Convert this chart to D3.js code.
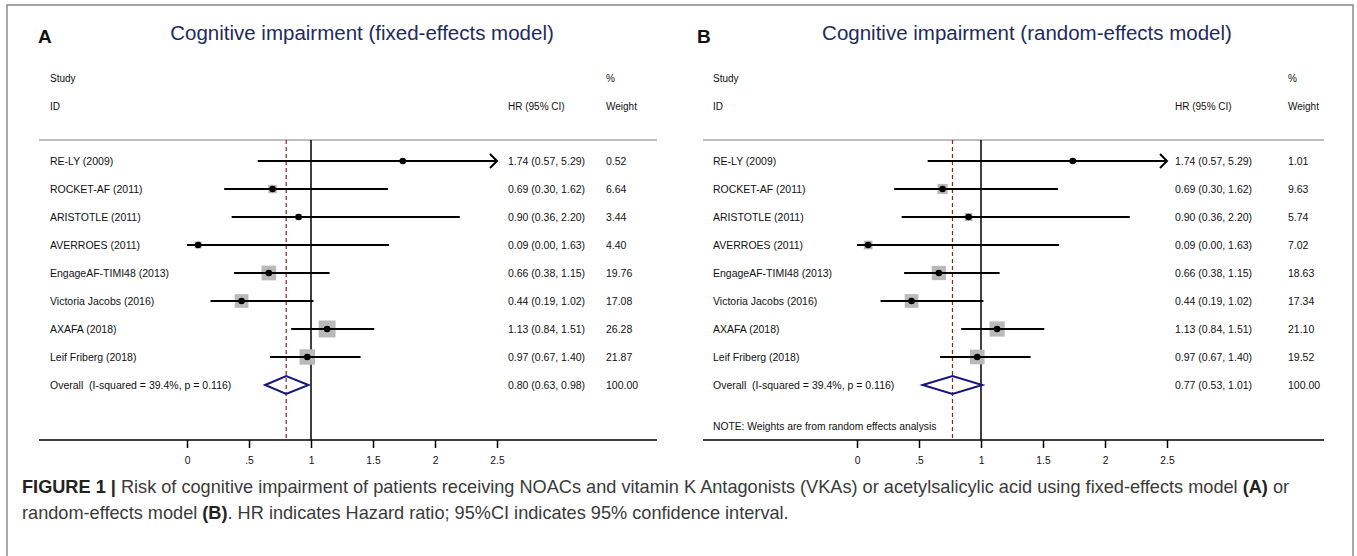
<!DOCTYPE html>
<html><head><meta charset="utf-8">
<script src="https://cdn.jsdelivr.net/npm/d3@7"></script>
<style>
html,body{margin:0;padding:0;background:#fff;}
svg{display:block;font-family:"Liberation Sans",Arial,sans-serif;}
</style></head>
<body>
<svg id="chart" width="1357" height="556"></svg>
<script>
// ---------- data ----------
const studies = ["RE-LY (2009)","ROCKET-AF (2011)","ARISTOTLE (2011)","AVERROES (2011)",
  "EngageAF-TIMI48 (2013)","Victoria Jacobs (2016)","AXAFA (2018)","Leif Friberg (2018)"];
const hr    = [1.74,0.69,0.90,0.09,0.66,0.44,1.13,0.97];
const hrLow = [0.57,0.30,0.36,0.00,0.38,0.19,0.84,0.67];
const hrHigh= [5.29,1.62,2.20,1.63,1.15,1.02,1.51,1.40];
const weightsFixed  = [0.52,6.64,3.44,4.40,19.76,17.08,26.28,21.87];
const weightsRandom = [1.01,9.63,5.74,7.02,18.63,17.34,21.10,19.52];
const overallFixed  = [0.80,0.63,0.98];
const overallRandom = [0.77,0.53,1.01];
const overallLabel = "Overall\u00a0\u00a0(I-squared = 39.4%, p = 0.116)";
const tickValues = [0,0.5,1,1.5,2,2.5];
const tickLabels = ["0",".5","1","1.5","2","2.5"];
const panels = [
  {letter:"A", title:"Cognitive impairment (fixed-effects model)", weights:weightsFixed, overall:overallFixed, note:null},
  {letter:"B", title:"Cognitive impairment (random-effects model)", weights:weightsRandom, overall:overallRandom, note:"NOTE: Weights are from random effects analysis"}
];
// ---------- layout ----------
const layouts = [
  {left:39, right:657, x0:187, x25:497, letterX:38, titleX:362, labelX:50, hrX:508, wX:606},
  {left:703, right:1324, x0:857, x25:1167, letterX:697, titleX:1027, labelX:713, hrX:1175, wX:1288}
];
const topLine = 140, axisY = 440, rowY0 = 161, rowStep = 28, fsRow = 10.5;
const fmt = d3.format(".2f");
const svg = d3.select("#chart");

// outer border
svg.append("rect").attr("x",7).attr("y",5).attr("width",1346).attr("height",560)
  .attr("fill","none").attr("stroke","#8a8a8a").attr("stroke-width",1.5);

panels.forEach((p,pi)=>{
  const L = layouts[pi];
  const g = svg.append("g");
  const x = d3.scaleLinear().domain([0,2.5]).range([L.x0,L.x25]);
  const y = i => rowY0 + i*rowStep;

  g.append("text").attr("x",L.letterX).attr("y",43).attr("font-size",19).attr("font-weight","bold")
    .attr("fill","#111").text(p.letter);
  g.append("text").attr("x",L.titleX).attr("y",40).attr("text-anchor","middle").attr("font-size",20.5)
    .attr("fill","#1d2b5c").text(p.title);

  const hdr = (t,xx,yy)=>g.append("text").attr("x",xx).attr("y",yy).attr("font-size",10).attr("fill","#111").text(t);
  hdr("Study",L.labelX,82); hdr("ID",L.labelX,110);
  hdr("%",L.wX,82); hdr("HR (95% CI)",L.hrX,110); hdr("Weight",L.wX,110);

  g.append("line").attr("x1",L.left).attr("x2",L.right).attr("y1",topLine).attr("y2",topLine)
    .attr("stroke","#a8a8a8").attr("stroke-width",1.5);

  // null line and overall dashed line
  g.append("line").attr("x1",x(1)).attr("x2",x(1)).attr("y1",topLine).attr("y2",axisY)
    .attr("stroke","#000").attr("stroke-width",1.5);
  g.append("line").attr("x1",x(p.overall[0])).attr("x2",x(p.overall[0])).attr("y1",topLine).attr("y2",axisY)
    .attr("stroke","#9b1c1c").attr("stroke-width",1.2).attr("stroke-dasharray","4,3");

  studies.forEach((s,i)=>{
    const yy = y(i);
    g.append("text").attr("x",L.labelX).attr("y",yy+3.7).attr("font-size",fsRow).attr("fill","#111").text(s);
    const side = 3.3*Math.sqrt(p.weights[i]);
    g.append("rect").attr("x",x(hr[i])-side/2).attr("y",yy-side/2).attr("width",side).attr("height",side)
      .attr("fill","#b9b9b9");
    const hiClip = Math.min(hrHigh[i],2.5);
    g.append("line").attr("x1",x(hrLow[i])).attr("x2",x(hiClip)).attr("y1",yy).attr("y2",yy)
      .attr("stroke","#000").attr("stroke-width",2);
    if(hrHigh[i]>2.5){
      g.append("path").attr("d",`M${x(2.5)-7},${yy-7}L${x(2.5)},${yy}L${x(2.5)-7},${yy+7}`)
        .attr("fill","none").attr("stroke","#000").attr("stroke-width",2);
    }
    g.append("circle").attr("cx",x(hr[i])).attr("cy",yy).attr("r",3.3).attr("fill","#000");
    g.append("text").attr("x",L.hrX).attr("y",yy+3.7).attr("font-size",fsRow).attr("fill","#111")
      .text(`${fmt(hr[i])} (${fmt(hrLow[i])}, ${fmt(hrHigh[i])})`);
    g.append("text").attr("x",L.wX).attr("y",yy+3.7).attr("font-size",fsRow).attr("fill","#111")
      .text(fmt(p.weights[i]));
  });

  // overall row
  const oy = y(studies.length);
  g.append("text").attr("x",L.labelX).attr("y",oy+3.7).attr("font-size",fsRow).attr("fill","#111").text(overallLabel);
  const [est,lo,hi] = p.overall;
  g.append("path").attr("d",`M${x(lo)},${oy}L${x(est)},${oy-9}L${x(hi)},${oy}L${x(est)},${oy+9}Z`)
    .attr("fill","none").attr("stroke","#17177a").attr("stroke-width",2);
  g.append("text").attr("x",L.hrX).attr("y",oy+3.7).attr("font-size",fsRow).attr("fill","#111")
    .text(`${fmt(est)} (${fmt(lo)}, ${fmt(hi)})`);
  g.append("text").attr("x",L.wX).attr("y",oy+3.7).attr("font-size",fsRow).attr("fill","#111").text("100.00");

  if(p.note){
    g.append("text").attr("x",L.labelX).attr("y",430).attr("font-size",10.3).attr("fill","#111").text(p.note);
  }

  // axis
  g.append("line").attr("x1",L.left).attr("x2",L.right).attr("y1",axisY).attr("y2",axisY)
    .attr("stroke","#000").attr("stroke-width",1.5);
  const ax = g.append("g").attr("transform",`translate(0,${axisY})`)
    .call(d3.axisBottom(x).tickValues(tickValues).tickFormat((d,i)=>tickLabels[i]).tickSize(8).tickPadding(9));
  ax.select(".domain").remove();
  ax.selectAll(".tick line").attr("stroke","#000").attr("stroke-width",1.5);
  ax.selectAll(".tick text").attr("font-size",10.3).attr("fill","#111")
    .attr("font-family","'Liberation Sans',Arial,sans-serif");
});

// caption
const cap1 = [["FIGURE 1 | ",true],["Risk of cognitive impairment of patients receiving NOACs and vitamin K Antagonists (VKAs) or acetylsalicylic acid using fixed-effects model ",false],["(A)",true],[" or",false]];
const cap2 = [["random-effects model ",false],["(B)",true],[". HR indicates Hazard ratio; 95%CI indicates 95% confidence interval.",false]];
function capLine(parts,yy){
  const t = svg.append("text").attr("x",22).attr("y",yy).attr("font-size",16).attr("fill","#3a3a3a");
  parts.forEach(([s,b])=>t.append("tspan").attr("font-weight",b?"bold":"normal").attr("fill",b?"#222":"#3a3a3a").text(s));
  return t;
}
const c1 = capLine(cap1,493);
const c2 = capLine(cap2,519);
const w1 = c1.node().getComputedTextLength();
const fs = 16*1268/w1;
c1.attr("font-size",fs); c2.attr("font-size",fs);
</script>
</body></html>
